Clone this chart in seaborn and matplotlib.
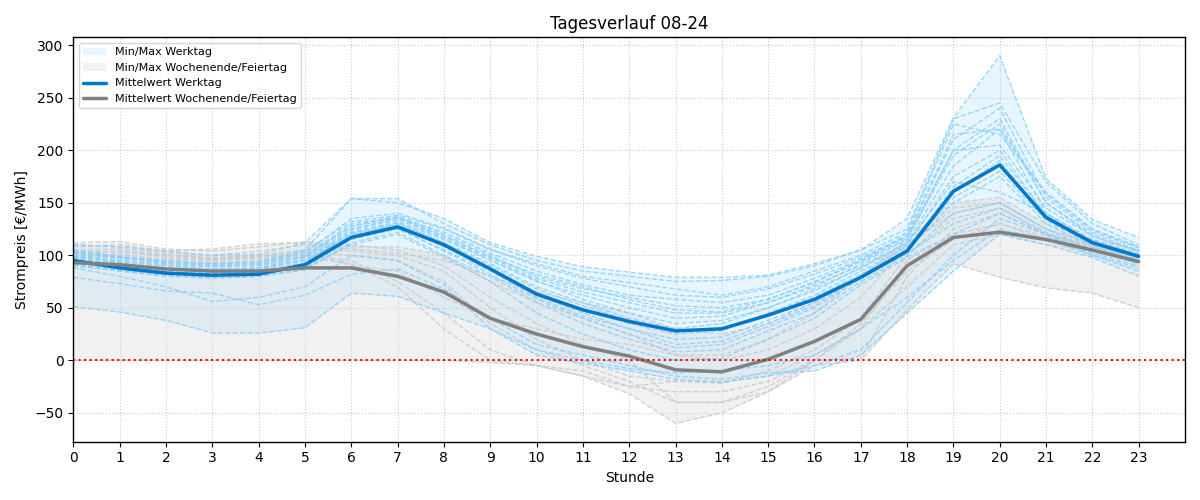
import numpy as np
import pandas as pd
import matplotlib
matplotlib.use("Agg")
import matplotlib.pyplot as plt
import seaborn as sns

hours = list(range(24))

# Individual weekday profiles (€/MWh)
werktag_days = [
    [51, 46, 38, 26, 26, 31, 64, 61, 45, 30, 10, 0, -8, -12, -10, -5, 5, 30, 60, 95, 125, 115, 100, 85],
    [79, 73, 66, 64, 53, 62, 82, 87, 68, 40, 15, 5, -5, -15, -18, -12, -10, 5, 45, 85, 120, 110, 98, 80],
    [88, 80, 70, 56, 60, 70, 100, 95, 72, 30, 5, -3, -10, -18, -21, -15, -5, 10, 55, 100, 135, 120, 100, 88],
    [102, 98, 95, 92, 94, 105, 154, 154, 130, 110, 95, 85, 80, 75, 76, 80, 90, 105, 135, 231, 290, 173, 134, 117],
    [110, 108, 104, 100, 101, 112, 154, 150, 135, 112, 99, 89, 84, 79, 79, 81, 92, 105, 125, 230, 245, 170, 130, 110],
    [100, 93, 88, 86, 88, 98, 128, 137, 120, 100, 80, 68, 60, 52, 50, 58, 75, 95, 118, 200, 230, 150, 120, 105],
    [98, 92, 87, 85, 87, 96, 125, 135, 118, 98, 78, 65, 55, 45, 45, 55, 70, 92, 115, 200, 205, 145, 118, 104],
    [105, 99, 94, 92, 93, 104, 132, 138, 125, 105, 92, 80, 74, 68, 62, 70, 85, 100, 122, 225, 215, 160, 125, 108],
    [96, 90, 86, 84, 85, 92, 122, 132, 115, 95, 75, 62, 50, 40, 42, 55, 72, 90, 112, 185, 220, 140, 115, 100],
    [99, 94, 90, 87, 88, 95, 120, 130, 112, 92, 70, 55, 40, 30, 35, 50, 68, 88, 110, 175, 200, 138, 112, 100],
    [94, 88, 84, 83, 84, 90, 118, 128, 108, 88, 65, 48, 35, 25, 28, 45, 62, 85, 108, 160, 190, 135, 110, 98],
    [103, 97, 92, 90, 91, 100, 130, 136, 122, 102, 85, 72, 62, 58, 55, 62, 78, 96, 120, 210, 240, 155, 122, 107],
    [92, 86, 82, 80, 82, 88, 115, 125, 105, 85, 60, 42, 30, 20, 22, 38, 55, 80, 105, 150, 175, 130, 108, 96],
    [97, 91, 87, 85, 86, 93, 124, 134, 116, 96, 76, 58, 45, 35, 38, 50, 66, 88, 112, 170, 160, 140, 114, 102],
    [90, 85, 80, 78, 80, 86, 112, 122, 100, 80, 55, 35, 20, 8, 10, 28, 45, 75, 100, 140, 150, 125, 105, 92],
    [101, 95, 91, 89, 90, 99, 127, 136, 118, 98, 82, 70, 58, 48, 46, 58, 74, 94, 116, 195, 225, 150, 118, 104],
    [93, 87, 83, 81, 83, 89, 116, 126, 104, 82, 58, 40, 25, 12, 15, 32, 50, 78, 102, 130, 145, 122, 104, 94],
    [95, 89, 85, 82, 83, 90, 119, 129, 110, 90, 68, 52, 38, 28, 30, 44, 60, 82, 106, 155, 180, 133, 110, 98],
    [91, 85, 81, 79, 80, 87, 110, 120, 98, 75, 45, 25, 10, 0, 2, 20, 40, 72, 98, 120, 140, 120, 102, 90],
    [104, 98, 93, 91, 92, 102, 135, 140, 126, 106, 90, 78, 70, 62, 60, 68, 82, 98, 118, 215, 220, 158, 124, 108],
    [97, 90, 86, 83, 84, 92, 121, 131, 112, 88, 62, 45, 30, 15, 18, 35, 52, 80, 104, 165, 195, 138, 112, 99],
]

# Individual weekend / holiday profiles (€/MWh)
wochenende_days = [
    [0, 0, 0, 0, 0, 0, 0, 0, 0, -2, -5, -15, -32, -60, -50, -30, -5, 0, 48, 92, 79, 69, 64, 50],
    [112, 113, 106, 104, 108, 113, 108, 108, 100, 75, 55, 40, 25, 5, 5, 20, 45, 80, 110, 140, 150, 125, 112, 100],
    [108, 110, 104, 106, 111, 112, 110, 105, 90, 60, 35, 15, 0, -40, -40, -25, 0, 30, 95, 120, 130, 118, 108, 98],
    [105, 106, 100, 98, 100, 105, 104, 100, 85, 50, 20, 0, -15, -20, -22, -10, 10, 40, 100, 135, 145, 120, 110, 100],
    [102, 104, 98, 96, 98, 102, 100, 95, 75, 35, 10, -5, -20, -40, -40, -30, 0, 35, 85, 115, 130, 115, 106, 96],
    [110, 108, 102, 100, 104, 110, 106, 102, 95, 80, 65, 55, 45, 30, 25, 35, 55, 80, 115, 150, 155, 130, 115, 105],
    [100, 101, 96, 95, 97, 100, 95, 75, 45, 10, -5, -10, -25, -20, -20, -15, 5, 30, 70, 110, 120, 110, 105, 95],
    [98, 99, 94, 93, 95, 98, 92, 70, 30, 0, -5, -15, -25, -30, -30, -20, 0, 2, 80, 125, 140, 120, 108, 98],
    [104, 103, 100, 97, 99, 104, 90, 85, 60, 40, 30, 20, 15, 5, 0, 10, 30, 60, 108, 145, 150, 125, 110, 100],
]

# Mean profiles
mittel_werktag = [95, 88, 83, 81, 82, 91, 117, 127, 110, 87, 63, 48, 37, 28, 30, 43, 58, 79, 104, 161, 186, 136, 112, 99]
mittel_wochenende = [93, 91, 87, 85, 85, 88, 88, 80, 65, 40, 25, 13, 4, -9, -11, 1, 18, 39, 90, 117, 122, 115, 105, 94]

sns.set_style("ticks")
plt.rcParams.update({
    'font.family': ['DejaVu Sans'],
    'text.color': 'black',
    'axes.labelcolor': 'black',
    'xtick.color': 'black',
    'ytick.color': 'black',
    'axes.edgecolor': 'black',
    'font.size': 10,
})

fig, ax = plt.subplots(figsize=(12, 5), dpi=100)

wt = np.array(werktag_days, dtype=float)
we = np.array(wochenende_days, dtype=float)

# Min/Max bands
ax.fill_between(hours, wt.min(axis=0), wt.max(axis=0), color='#87CEFA', alpha=0.2,
                linewidth=0, label='Min/Max Werktag')
ax.fill_between(hours, we.min(axis=0), we.max(axis=0), color='#d3d3d3', alpha=0.3,
                linewidth=0, label='Min/Max Wochenende/Feiertag')

# Individual days
df_wt = pd.DataFrame([(d, h, v) for d, row in enumerate(werktag_days) for h, v in zip(hours, row)],
                     columns=['tag', 'stunde', 'preis'])
df_we = pd.DataFrame([(d, h, v) for d, row in enumerate(wochenende_days) for h, v in zip(hours, row)],
                     columns=['tag', 'stunde', 'preis'])
sns.lineplot(data=df_we, x='stunde', y='preis', units='tag', estimator=None, ax=ax,
             color='#c8c8c8', linestyle='--', linewidth=1, alpha=0.8, legend=False)
sns.lineplot(data=df_wt, x='stunde', y='preis', units='tag', estimator=None, ax=ax,
             color='#87CEFA', linestyle='--', linewidth=1, alpha=0.8, legend=False)

# Means
sns.lineplot(x=hours, y=mittel_werktag, ax=ax, color='#0077c8', linewidth=2.5,
             label='Mittelwert Werktag')
sns.lineplot(x=hours, y=mittel_wochenende, ax=ax, color='#808080', linewidth=2.5,
             label='Mittelwert Wochenende/Feiertag')

ax.axhline(0, color='red', linestyle=':', linewidth=1.5)

ax.set_xlim(0, 24)
ax.set_xticks(hours)
ax.set_title('Tagesverlauf 08-24', fontsize=12)
ax.set_xlabel('Stunde', fontsize=10)
ax.set_ylabel('Strompreis [€/MWh]', fontsize=10)
ax.grid(True, linestyle=':', color='#cccccc', linewidth=0.8)
for s in ax.spines.values():
    s.set_color('black')
    s.set_linewidth(1)
ax.tick_params(axis='both', which='both', length=3.5, width=0.8, labelsize=10)

handles, labels = ax.get_legend_handles_labels()
order = ['Min/Max Werktag', 'Min/Max Wochenende/Feiertag', 'Mittelwert Werktag', 'Mittelwert Wochenende/Feiertag']
hmap = dict(zip(labels, handles))
ax.legend([hmap[k] for k in order], order, loc='upper left', fontsize=8, frameon=True)

fig.tight_layout()
fig.savefig('out.png', dpi=100)
